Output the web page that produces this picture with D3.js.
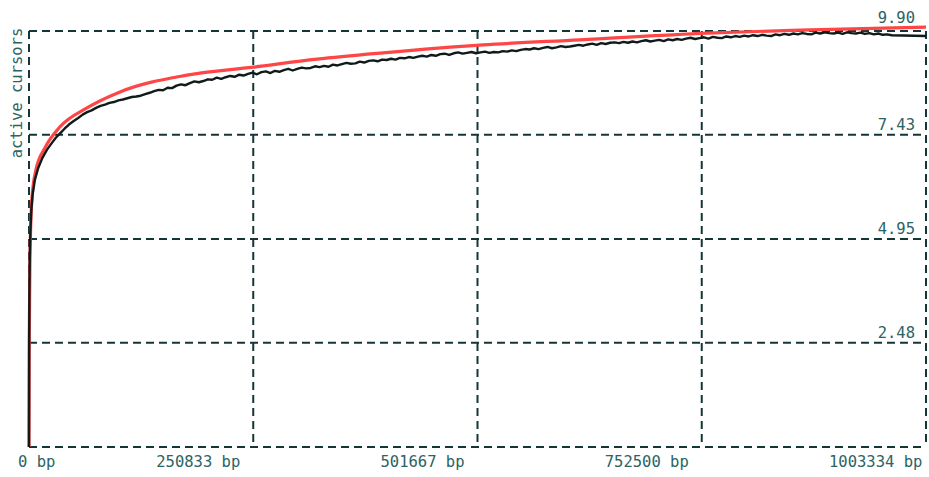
<!DOCTYPE html>
<html>
<head>
<meta charset="utf-8">
<script src="https://cdn.jsdelivr.net/npm/d3@7"></script>
<style>
  body { margin: 0; background: #fff; }
  text { font-family: "DejaVu Sans Mono", monospace; font-size: 15.5px; fill: #2c6464; }
</style>
</head>
<body>
<svg id="chart" width="929" height="477"></svg>
<script>
// tick values and labels
var xTicks = [0, 250833, 501667, 752500, 1003334];
var xTickLabels = ['0 bp', '250833 bp', '501667 bp', '752500 bp', '1003334 bp'];
var yTicks = [2.48, 4.95, 7.43, 9.90];
var yTickLabels = ['2.48', '4.95', '7.43', '9.90'];

// red (smooth) series
var fitBp = [0, 300, 1100, 3400, 7800, 17900, 34700, 64900, 101800, 176700, 250600,
  322200, 396000, 507800, 616400, 758400, 862500, 1003334];
var fitVal = [0, 2.6, 4.5, 5.95, 6.6, 7.12, 7.62, 8.07, 8.45, 8.85, 9.04,
  9.23, 9.38, 9.57, 9.69, 9.85, 9.92, 9.99];

// black (measured) series: dense start, then one reading every 5000 bp
var startBp = [0, 150, 400, 800, 1500, 2500, 4000, 6500];
var startVal = [0, 2.2, 3.6, 4.4, 5.1, 5.6, 6.0, 6.35];
var stepBp = 5000;
var measVal = [
  6.62, 6.88, 7.07, 7.22, 7.36, 7.47, 7.58, 7.68, 7.76, 7.83,
  7.91, 7.97, 8.01, 8.07, 8.12, 8.15, 8.19, 8.21, 8.25, 8.27,
  8.30, 8.33, 8.34, 8.36, 8.40, 8.43, 8.47, 8.50, 8.49, 8.55,
  8.54, 8.60, 8.63, 8.61, 8.66, 8.70, 8.68, 8.71, 8.75, 8.74,
  8.79, 8.76, 8.80, 8.83, 8.81, 8.86, 8.84, 8.88, 8.91, 8.87,
  8.92, 8.94, 8.90, 8.95, 8.93, 8.97, 9.00, 8.96, 9.00, 9.03,
  9.01, 9.02, 9.06, 9.04, 9.07, 9.05, 9.10, 9.08, 9.11, 9.14,
  9.12, 9.13, 9.17, 9.15, 9.19, 9.20, 9.18, 9.22, 9.21, 9.24,
  9.22, 9.26, 9.25, 9.28, 9.26, 9.29, 9.31, 9.29, 9.33, 9.31,
  9.35, 9.36, 9.33, 9.37, 9.39, 9.36, 9.38, 9.40, 9.37, 9.39,
  9.41, 9.38, 9.40, 9.39, 9.42, 9.41, 9.44, 9.42, 9.45, 9.47,
  9.46, 9.49, 9.47, 9.50, 9.52, 9.49, 9.51, 9.54, 9.52, 9.53,
  9.55, 9.57, 9.55, 9.58, 9.60, 9.57, 9.61, 9.59, 9.62, 9.63,
  9.61, 9.64, 9.62, 9.65, 9.63, 9.66, 9.68, 9.65, 9.67, 9.69,
  9.66, 9.70, 9.68, 9.71, 9.69, 9.72, 9.74, 9.71, 9.73, 9.75,
  9.72, 9.76, 9.74, 9.73, 9.77, 9.75, 9.78, 9.76, 9.79, 9.77,
  9.80, 9.78, 9.81, 9.79, 9.78, 9.82, 9.80, 9.83, 9.81, 9.84,
  9.82, 9.85, 9.83, 9.82, 9.86, 9.84, 9.87, 9.85, 9.84, 9.86,
  9.83, 9.87, 9.85, 9.84, 9.86, 9.83, 9.85, 9.82, 9.84, 9.81,
  9.82, 9.80
];
var endBp = 1003334, endVal = 9.78;

var width = 929, height = 477;
var margin = {top: 31, right: 3, bottom: 30, left: 29};

var svg = d3.select('#chart');

var x = d3.scaleLinear().domain([0, 1003334]).range([margin.left, width - margin.right]);
var y = d3.scaleLinear().domain([0, 9.90]).range([height - margin.bottom, margin.top]);

var gridColor = '#143636';

// horizontal grid lines (bottom edge too)
svg.append('g').selectAll('line')
  .data([0].concat(yTicks))
  .enter().append('line')
  .attr('x1', x(0)).attr('x2', x(1003334))
  .attr('y1', function(d) { return y(d); })
  .attr('y2', function(d) { return y(d); })
  .attr('stroke', gridColor)
  .attr('stroke-width', 2)
  .attr('stroke-dasharray', '8,5');

// vertical grid lines
svg.append('g').selectAll('line')
  .data(xTicks)
  .enter().append('line')
  .attr('x1', function(d) { return x(d); })
  .attr('x2', function(d) { return x(d); })
  .attr('y1', y(9.90)).attr('y2', y(0))
  .attr('stroke', gridColor)
  .attr('stroke-width', 2)
  .attr('stroke-dasharray', '8,5');

var line = d3.line()
  .x(function(d) { return x(d[0]); })
  .y(function(d) { return y(d[1]); });

var smoothLine = d3.line()
  .curve(d3.curveMonotoneX)
  .x(function(d) { return x(d[0]); })
  .y(function(d) { return y(d[1]); });

var fit = fitBp.map(function(b, i) { return [b, fitVal[i]]; });
var meas = startBp.map(function(b, i) { return [b, startVal[i]]; })
  .concat(measVal.map(function(v, i) { return [(i + 2) * stepBp, v]; }))
  .concat([[endBp, endVal]]);

svg.append('path')
  .datum(fit)
  .attr('d', smoothLine)
  .attr('fill', 'none')
  .attr('stroke', '#ff4646')
  .attr('stroke-width', 3.2)
  .attr('stroke-linejoin', 'round');

svg.append('path')
  .datum(meas)
  .attr('d', line)
  .attr('fill', 'none')
  .attr('stroke', '#101a1a')
  .attr('stroke-width', 2.4)
  .attr('stroke-linejoin', 'round');

// x labels sit left of their grid line
svg.append('g').selectAll('text')
  .data(xTicks)
  .enter().append('text')
  .attr('x', function(d, i) { return i === 0 ? x(d) - 11 : x(d) - 97; })
  .attr('y', 467)
  .text(function(d, i) { return xTickLabels[i]; });

// y labels, right aligned above their grid line
svg.append('g').selectAll('text')
  .data(yTicks)
  .enter().append('text')
  .attr('x', width - margin.right - 11)
  .attr('y', function(d, i) { return y(d) - (i === yTicks.length - 1 ? 8 : 5); })
  .attr('text-anchor', 'end')
  .text(function(d, i) { return yTickLabels[i]; });

svg.append('text')
  .attr('transform', 'translate(22,93) rotate(-90)')
  .attr('text-anchor', 'middle')
  .text('active cursors');
</script>
</body>
</html>
